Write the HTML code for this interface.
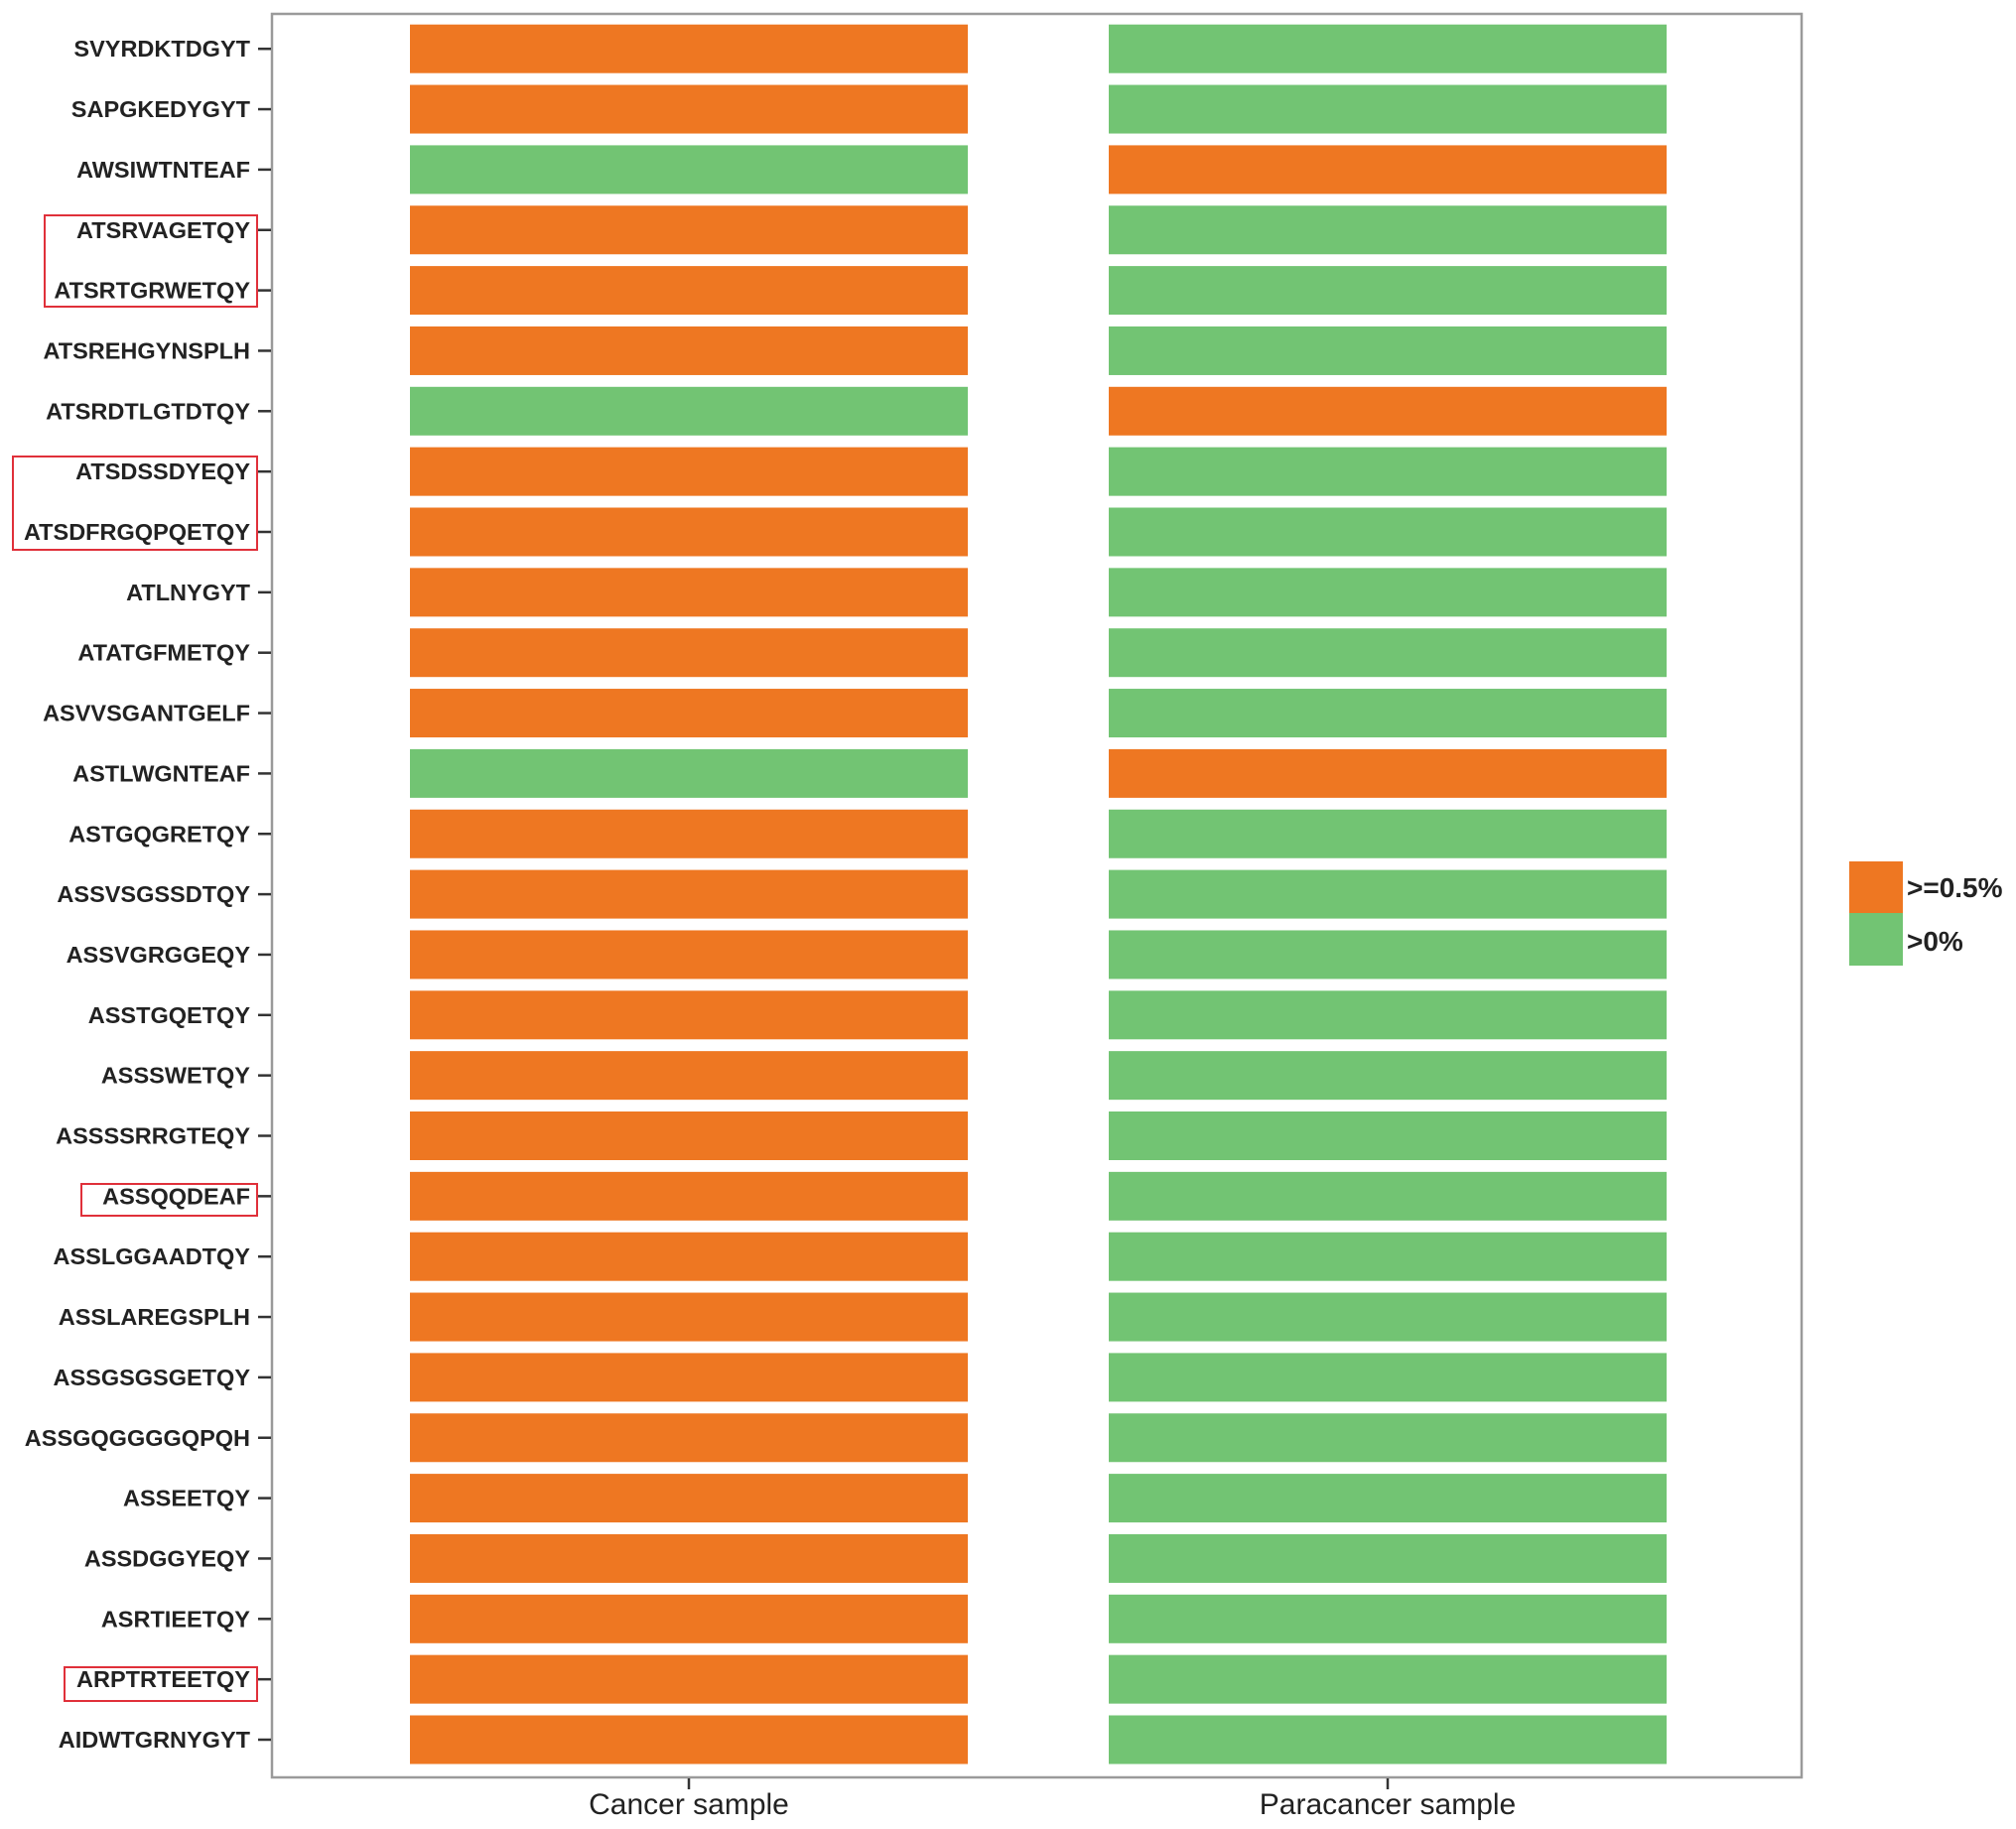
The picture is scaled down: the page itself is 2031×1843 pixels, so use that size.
<!DOCTYPE html>
<html><head><meta charset="utf-8"><style>
html,body{margin:0;padding:0;background:#fff;}
svg{display:block;}
</style></head><body>
<svg id="chart" width="2031" height="1843" xmlns="http://www.w3.org/2000/svg">
<rect x="274" y="14" width="1541" height="1777" fill="#fff" stroke="#9a9a9a" stroke-width="2.5"/>
<g id="bars"></g>
<g id="ylabels"></g>
<g id="xlabels"></g>
<rect x="45" y="217" width="214" height="92" fill="none" stroke="#e0303a" stroke-width="2"/>
<rect x="13" y="460" width="246" height="94" fill="none" stroke="#e0303a" stroke-width="2"/>
<rect x="82" y="1193" width="177" height="32" fill="none" stroke="#e0303a" stroke-width="2"/>
<rect x="65" y="1680" width="194" height="34" fill="none" stroke="#e0303a" stroke-width="2"/>
<g>
<rect x="1863" y="868" width="54" height="52" fill="#EE7722"/>
<rect x="1863" y="920" width="54" height="53" fill="#72C473"/>
<text x="1921" y="904" font-family="Liberation Sans, sans-serif" font-weight="bold" font-size="28" fill="#222">&gt;=0.5%</text>
<text x="1921" y="958" font-family="Liberation Sans, sans-serif" font-weight="bold" font-size="28" fill="#222">&gt;0%</text>
</g>
</svg>
<script>
const categories = ["SVYRDKTDGYT","SAPGKEDYGYT","AWSIWTNTEAF","ATSRVAGETQY","ATSRTGRWETQY","ATSREHGYNSPLH","ATSRDTLGTDTQY","ATSDSSDYEQY","ATSDFRGQPQETQY","ATLNYGYT","ATATGFMETQY","ASVVSGANTGELF","ASTLWGNTEAF","ASTGQGRETQY","ASSVSGSSDTQY","ASSVGRGGEQY","ASSTGQETQY","ASSSWETQY","ASSSSRRGTEQY","ASSQQDEAF","ASSLGGAADTQY","ASSLAREGSPLH","ASSGSGSGETQY","ASSGQGGGGQPQH","ASSEETQY","ASSDGGYEQY","ASRTIEETQY","ARPTRTEETQY","AIDWTGRNYGYT"];
const samples = ["Cancer sample","Paracancer sample"];
// 1 = >=0.5%, 0 = >0%
const cancerValues = [1,1,0,1,1,1,0,1,1,1,1,1,0,1,1,1,1,1,1,1,1,1,1,1,1,1,1,1,1];
const paracancerValues = [0,0,1,0,0,0,1,0,0,0,0,0,1,0,0,0,0,0,0,0,0,0,0,0,0,0,0,0,0];
const NS='http://www.w3.org/2000/svg';
const yTop=18, yStep=60.85;
function yScale(i){return yTop + 31.2 + i*yStep;}
const xCenters=[694,1398];
function xScale(j){return xCenters[j];}
const bw=562, bh=49;
const colors={1:'#EE7722',0:'#72C473'};
const series=[cancerValues,paracancerValues];
const gb=document.getElementById('bars'), gy=document.getElementById('ylabels'), gx=document.getElementById('xlabels');
series.forEach((vals,j)=>{
  vals.forEach((v,i)=>{
    const r=document.createElementNS(NS,'rect');
    r.setAttribute('x',xScale(j)-bw/2);
    r.setAttribute('y',yScale(i)-bh/2);
    r.setAttribute('width',bw);r.setAttribute('height',bh);
    r.setAttribute('fill',colors[v]);
    
    
    gb.appendChild(r);
  });
});
categories.forEach((c,i)=>{
  const y=yScale(i);
  const t=document.createElementNS(NS,'text');
  t.setAttribute('x',252);t.setAttribute('y',y+8);
  t.setAttribute('text-anchor','end');
  t.setAttribute('font-family','Liberation Sans, sans-serif');
  t.setAttribute('font-weight','bold');t.setAttribute('font-size','23.5');t.setAttribute('fill','#222');
  t.textContent=c;
  
  
  gy.appendChild(t);
  const l=document.createElementNS(NS,'line');
  l.setAttribute('x1',260);l.setAttribute('x2',273);l.setAttribute('y1',y);l.setAttribute('y2',y);
  l.setAttribute('stroke','#333');l.setAttribute('stroke-width','2.5');
  
  
  gy.appendChild(l);
});
samples.forEach((s,j)=>{
  const x=xScale(j);
  const l=document.createElementNS(NS,'line');
  l.setAttribute('x1',x);l.setAttribute('x2',x);l.setAttribute('y1',1792);l.setAttribute('y2',1803);
  l.setAttribute('stroke','#333');l.setAttribute('stroke-width','2.5');
  
  
  gx.appendChild(l);
  const t=document.createElementNS(NS,'text');
  t.setAttribute('x',x);t.setAttribute('y',1828);t.setAttribute('text-anchor','middle');
  t.setAttribute('font-family','Liberation Sans, sans-serif');t.setAttribute('font-size','30');t.setAttribute('fill','#222');
  t.textContent=s;
  
  
  gx.appendChild(t);
});
</script>
</body></html>
